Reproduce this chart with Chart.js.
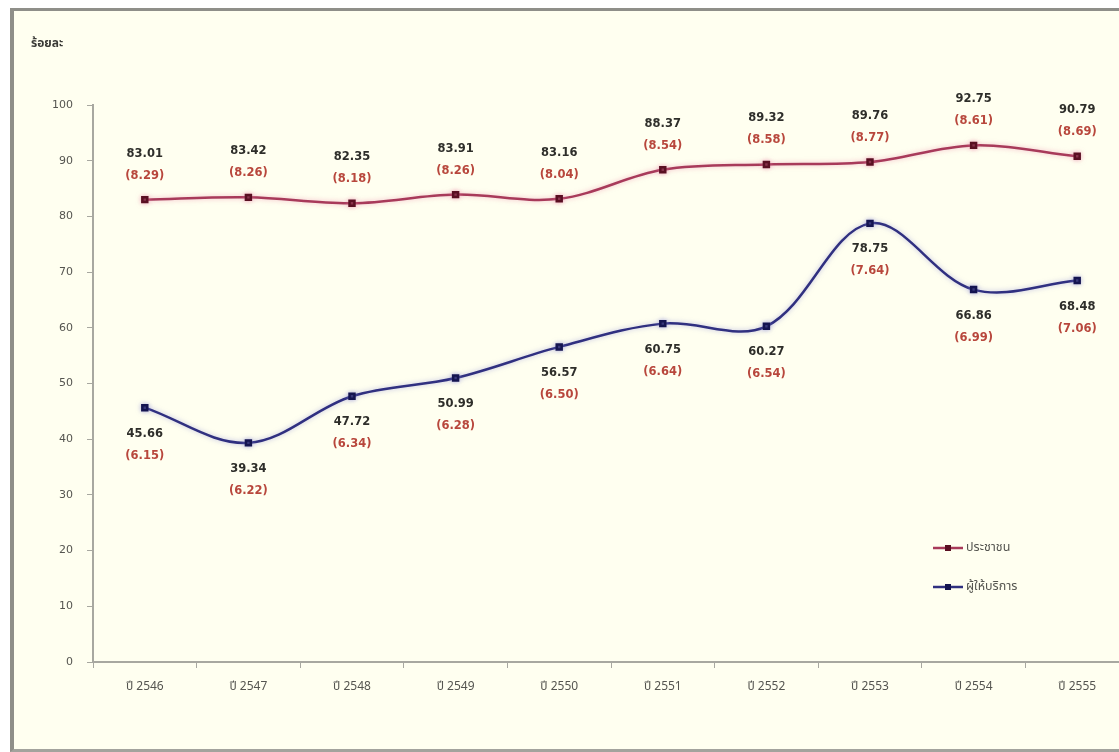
<!DOCTYPE html>
<html>
<head>
<meta charset="utf-8">
<script src="https://cdn.jsdelivr.net/npm/chart.js@4/dist/chart.umd.min.js"></script>
<style>
  html, body { margin:0; padding:0; background:#ffffff; overflow:hidden; width:1119px; height:752px; }
  #frame { position:absolute; left:10px; top:8px; width:1200px; height:738px;
           border-top:3px solid #8f8f89; border-left:4px solid #8f8f89; border-bottom:3px solid #a3a39d;
           background:#fffff0; }
  #wrap { position:absolute; left:0; top:0; width:1128px; height:738px; }
</style>
</head>
<body>
<div id="frame"><div id="wrap"><canvas id="c"></canvas></div></div>
<script>
const categories = ['ปี 2546','ปี 2547','ปี 2548','ปี 2549','ปี 2550','ปี 2551','ปี 2552','ปี 2553','ปี 2554','ปี 2555'];
const peopleValues = [83.01, 83.42, 82.35, 83.91, 83.16, 88.37, 89.32, 89.76, 92.75, 90.79];
const peopleScores = ['8.29','8.26','8.18','8.26','8.04','8.54','8.58','8.77','8.61','8.69'];
const providerValues = [45.66, 39.34, 47.72, 50.99, 56.57, 60.75, 60.27, 78.75, 66.86, 68.48];
const providerScores = ['6.15','6.22','6.34','6.28','6.50','6.64','6.54','7.64','6.99','7.06'];
const yTicks = [0,10,20,30,40,50,60,70,80,90,100];
const yTitle = 'ร้อยละ';
const seriesNames = ['ประชาชน', 'ผู้ให้บริการ'];

const THAI = '"Noto Sans Thai", "Noto Sans Thai UI", "Noto Sans", "DejaVu Sans", sans-serif';

const glowPlugin = {
  id: 'glow',
  beforeDatasetDraw(chart, args) {
    const ctx = chart.ctx;
    ctx.save();
    ctx.shadowColor = args.index === 0 ? 'rgba(230,120,160,0.55)' : 'rgba(130,130,210,0.55)';
    ctx.shadowBlur = 5;
  },
  afterDatasetDraw(chart) { chart.ctx.restore(); }
};

const labelPlugin = {
  id: 'pointLabels',
  afterDatasetsDraw(chart) {
    const ctx = chart.ctx;
    ctx.save();
    ctx.textAlign = 'center';
    ctx.textBaseline = 'middle';
    ctx.font = 'bold 11.5px "DejaVu Sans", sans-serif';
    chart.data.datasets.forEach((ds, di) => {
      const meta = chart.getDatasetMeta(di);
      const scores = di === 0 ? peopleScores : providerScores;
      meta.data.forEach((pt, i) => {
        const v1 = di === 0 ? -46 : 26;
        const v2 = di === 0 ? -24 : 48;
        ctx.fillStyle = '#2e2e2a';
        ctx.fillText(ds.data[i].toFixed(2), pt.x, pt.y + v1);
        ctx.fillStyle = '#b8473c';
        ctx.fillText('(' + scores[i] + ')', pt.x, pt.y + v2);
      });
    });
    // y title
    ctx.textAlign = 'left';
    ctx.fillStyle = '#3a3a36';
    ctx.font = 'bold 12px ' + THAI;
    ctx.fillText(yTitle, 17, 34);
    // legend
    const lx = chart.chartArea.right - 196;
    const rows = [537, 576];
    chart.data.datasets.forEach((ds, di) => {
      const y = rows[di];
      ctx.strokeStyle = ds.borderColor;
      ctx.lineWidth = 2.5;
      ctx.beginPath(); ctx.moveTo(lx, y); ctx.lineTo(lx + 30, y); ctx.stroke();
      ctx.fillStyle = ds.pointBackgroundColor;
      ctx.fillRect(lx + 12, y - 3, 6, 6);
      ctx.fillStyle = '#555550';
      ctx.font = '12.5px ' + THAI;
      ctx.fillText(ds.label, lx + 33, y);
    });
    ctx.restore();
  }
};

new Chart(document.getElementById('c'), {
  type: 'line',
  data: {
    labels: categories,
    datasets: [
      { label: seriesNames[0], data: peopleValues, borderColor: '#a83a5a', backgroundColor: '#a83a5a',
        pointBackgroundColor: '#5a0f22', pointBorderColor: '#5a0f22', pointStyle: 'rect', pointRadius: 3.5,
        borderWidth: 2.5, tension: 0.35, fill: false },
      { label: seriesNames[1], data: providerValues, borderColor: '#303080', backgroundColor: '#303080',
        pointBackgroundColor: '#141450', pointBorderColor: '#141450', pointStyle: 'rect', pointRadius: 3.5,
        borderWidth: 2.5, tension: 0.35, fill: false }
    ]
  },
  options: {
    responsive: true,
    maintainAspectRatio: false,
    animation: false,
    layout: { padding: { top: 94, right: 13, left: 0, bottom: 0 } },
    plugins: { legend: { display: false }, tooltip: { enabled: false } },
    scales: {
      x: {
        type: 'category',
        offset: true,
        grid: { offset: true, drawOnChartArea: false, drawTicks: true, tickLength: 6, color: '#a8a8a0' },
        border: { color: '#a8a8a0', width: 2 },
        ticks: { color: '#555550', font: { size: 12, family: THAI }, padding: 12, maxRotation: 0, autoSkip: false },
        afterFit(s) { s.height = 87; }
      },
      y: {
        min: 0, max: 100,
        afterBuildTicks(s) { s.ticks = yTicks.map(v => ({ value: v })); },
        grid: { drawOnChartArea: false, drawTicks: true, tickLength: 6, color: '#a8a8a0' },
        border: { color: '#a8a8a0', width: 2 },
        ticks: { color: '#555550', font: { size: 11, family: '"DejaVu Sans", sans-serif' }, padding: 14 },
        afterFit(s) { s.width = 79; }
      }
    }
  },
  plugins: [glowPlugin, labelPlugin]
});
</script>
</body>
</html>
